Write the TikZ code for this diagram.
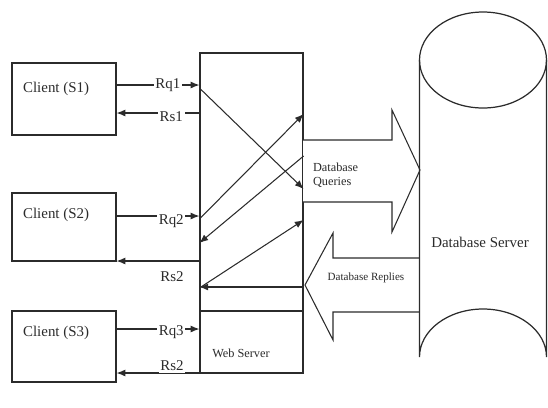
\documentclass[tikz,border=0pt]{standalone}
\usepackage{fontspec}
\setmainfont{Liberation Serif}
\usetikzlibrary{arrows.meta}
\definecolor{dbsInk}{HTML}{2B2B2B}
\tikzset{
  dbs box/.style={draw=dbsInk, line width=0.7pt, inner sep=0pt},
  dbs text/.style={font=\fontsize{8.5}{10}\selectfont, text=dbsInk, inner sep=1pt},
  dbs small/.style={font=\fontsize{7}{8}\selectfont, text=dbsInk, inner sep=1pt},
  dbs tag/.style={font=\fontsize{8.5}{10}\selectfont, text=dbsInk, fill=white, inner sep=1pt},
  dbs msg/.style={draw=dbsInk, line width=0.6pt, -{Latex[length=5pt,width=4pt]}},
  dbs pipe/.style={draw=dbsInk, line width=0.6pt, fill=white},
}
\begin{document}
\begin{tikzpicture}[x=0.02cm,y=-0.02cm]
  \useasboundingbox (0,0) rectangle (548,407);
  % Clients and web server
  \node[dbs box, minimum width=2.08cm, minimum height=1.44cm] (c1) at (64,99) {};
  \node[dbs box, minimum width=2.08cm, minimum height=1.36cm] (c2) at (64,227) {};
  \node[dbs box, minimum width=2.08cm, minimum height=1.42cm] (c3) at (64,346.5) {};
  \node[dbs text, anchor=west] (t1) at (21,89) {Client (S1)};
  \node[dbs text, anchor=west] (t2) at (21,215) {Client (S2)};
  \node[dbs text, anchor=west] (t3) at (21,333) {Client (S3)};
  \node[dbs box, minimum width=2.06cm, minimum height=6.4cm] (ws) at (251.5,213) {};
  \draw[dbs box] (ws.west |- 0,311) -- (ws.east |- 0,311);
  \node[dbs small] (wsl) at (241,353) {Web Server};
  % Query and reply pipes
  \draw[dbs pipe] (303,140) -- (392,140) -- (392,110) -- (420,170) -- (392,232) -- (392,202) -- (303,202);
  \draw[dbs pipe] (419.5,258) -- (333,258) -- (333,233) -- (305,285) -- (333,340) -- (333,312) -- (419.5,312);
  \node[dbs small, anchor=west, align=left] (dbq) at (311,175) {Database\\Queries};
  \node[dbs small, font=\fontsize{6.3}{7}\selectfont] (dbr) at (366,278) {Database Replies};
  % Database server
  \draw[dbs box] (419.5,60) -- (419.5,357) arc[start angle=180, end angle=360, x radius=63.5, y radius=48]
    -- (546.5,60);
  \draw[dbs box] (483,60) ellipse[x radius=63.5, y radius=48];
  \node[dbs text] (db) at (480,242) {Database Server};
  % Requests and responses
  \draw[dbs msg] (c1.east |- 0,85) -- node[dbs tag, pos=0.62] {Rq1} (ws.west |- 0,85);
  \draw[dbs msg] (ws.west |- 0,113) -- node[dbs tag, pos=0.34, yshift=-2pt] {Rs1} (c1.east |- 0,113);
  \draw[dbs msg] (c2.east |- 0,216) -- node[dbs tag, pos=0.66, yshift=-3pt] {Rq2} (ws.west |- 0,216);
  \draw[dbs msg] (ws.west |- 0,261) -- node[dbs tag, pos=0.33, yshift=-9pt] {Rs2} (c2.east |- 0,261);
  \draw[dbs msg] (c3.east |- 0,329) -- node[dbs tag, pos=0.66, yshift=-2pt] {Rq3} (ws.west |- 0,329);
  \draw[dbs msg] (ws.west |- 0,373) -- node[dbs tag, pos=0.33, yshift=4pt] {Rs2} (c3.east |- 0,373);
  % Forwarding inside the web server
  \draw[dbs msg] (ws.west |- 0,88) -- (ws.east |- 0,189);
  \draw[dbs msg] (ws.west |- 0,219) -- (ws.east |- 0,114);
  \draw[dbs msg] (ws.east |- 0,156) -- (ws.west |- 0,243);
  \draw[dbs msg] (ws.west |- 0,288) -- (ws.east |- 0,220);
  \draw[dbs msg] (ws.east |- 0,287) -- (ws.west |- 0,287);
\end{tikzpicture}
\end{document}
